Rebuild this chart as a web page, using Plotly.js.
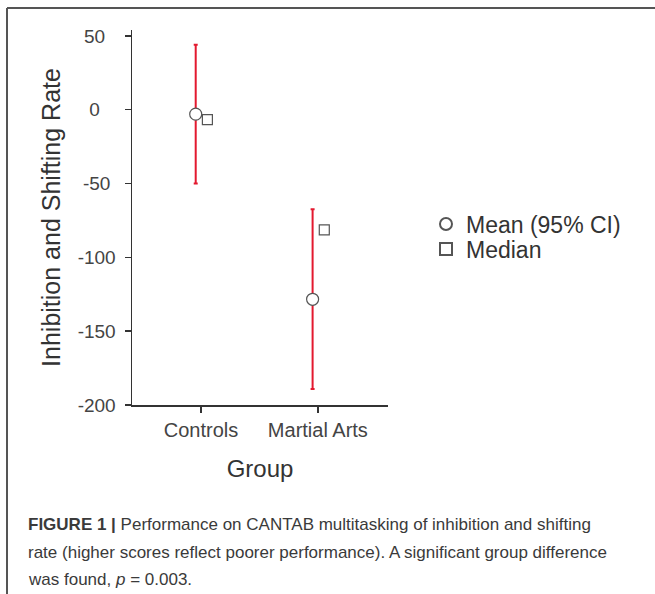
<!DOCTYPE html>
<html>
<head>
<meta charset="utf-8">
<script src="https://cdn.plot.ly/plotly-3.0.1.min.js"></script>
<style>html,body{margin:0;padding:0;background:#fff;}#chart{width:655px;height:594px;}</style>
</head>
<body>
<div id="chart"></div>
<script>
// ---- data ----
const groups = ["Controls", "Martial Arts"];
const meanValues = [-3, -128.4];
const ciUpper = [44, -67.4];
const ciLower = [-50, -189.2];
const medianValues = [-6.7, -81.4];
const yTickVals = [50, 0, -50, -100, -150, -200];
const yTickLabels = ["50", "0", "-50", "-100", "-150", "-200"];
const captionLines = [
  "<b>FIGURE 1 |</b> Performance on CANTAB multitasking of inhibition and shifting",
  "rate (higher scores reflect poorer performance). A significant group difference",
  "was found, <i>p</i> = 0.003."
];

// ---- geometry (pixels) ----
const W = 655, H = 594;
const L = 132, R = 388, T = 30, B = 405;
const px = x => (x - L) / (R - L);
const py = y => (B - y) / (B - T);

const idx = groups.map((g, i) => i + 1);
const meanOffset = -0.045, medianOffset = 0.055;

const font = "Liberation Sans, Arial, sans-serif";
const dark = "#333";

// centre-align y tick labels (reference has centred labels) by trailing padding
const longest = Math.max(...yTickLabels.map(s => s.length));
const padLabel = s => {
  const widthUnits = [...s].reduce((a, c) => a + (c === "-" ? 0.6 : 1), 0);
  const maxUnits = 3.6;
  const n = Math.round((maxUnits - widthUnits) / 2 * 2);
  return s + "\u00a0".repeat(Math.max(0, n));
};
const yTickText = yTickLabels.map(padLabel);

const traces = [
  {
    type: "scatter", mode: "markers", name: "Mean (95% CI)", legend: "legend",
    x: idx.map(v => v + meanOffset), y: meanValues,
    marker: {symbol: "circle", size: 12, color: "#fff", line: {color: "#555", width: 1.2}},
    error_y: {
      type: "data", symmetric: false,
      array: ciUpper.map((u, i) => u - meanValues[i]),
      arrayminus: meanValues.map((m, i) => m - ciLower[i]),
      color: "#e3192f", thickness: 2, width: 2
    }
  },
  {
    type: "scatter", mode: "markers", name: "Median", legend: "legend2",
    x: idx.map(v => v + medianOffset), y: medianValues,
    marker: {symbol: "square", size: 10, color: "#fff", line: {color: "#555", width: 1.2}}
  }
];

const annotations = captionLines.map((t, i) => ({
  text: t, xref: "paper", yref: "paper",
  x: px(26), y: py([524, 552, 579][i]), xanchor: "left", yanchor: "middle",
  showarrow: false, align: "left",
  font: {family: font, size: 17, color: "#3a3a3a"}
}));

const legendBase = {
  xanchor: "left", yanchor: "middle",
  font: {family: font, size: 23, color: dark},
  itemsizing: "constant", bgcolor: "rgba(0,0,0,0)"
};

const layout = {
  width: W, height: H,
  margin: {l: L, r: W - R, t: T, b: H - B, pad: 0},
  paper_bgcolor: "#fff", plot_bgcolor: "#fff",
  showlegend: true,
  legend: Object.assign({x: px(426), y: py(224)}, legendBase),
  legend2: Object.assign({x: px(426), y: py(249)}, legendBase),
  xaxis: {
    range: [0.41, 2.6], tickvals: idx, ticktext: groups,
    showline: true, linecolor: dark, linewidth: 1.5,
    ticks: "outside", ticklen: 6, tickwidth: 1.5, tickcolor: dark,
    showgrid: false, zeroline: false,
    tickfont: {family: font, size: 20, color: "#444"},
    title: {text: "Group", font: {family: font, size: 24, color: dark}, standoff: 20}
  },
  yaxis: {
    range: [-200, 54], tickvals: yTickVals, ticktext: yTickText,
    showline: true, linecolor: dark, linewidth: 1.5,
    ticks: "outside", ticklen: 6, tickwidth: 1.5, tickcolor: dark,
    ticklabelstandoff: 5,
    showgrid: false, zeroline: false,
    tickfont: {family: font, size: 19, color: "#444"},
    title: {text: "Inhibition and Shifting Rate", font: {family: font, size: 25, color: dark}, standoff: 10}
  },
  shapes: [
    {type: "line", xref: "paper", yref: "paper", x0: px(7), x1: px(W), y0: py(8), y1: py(8), line: {color: "#555", width: 2}},
    {type: "line", xref: "paper", yref: "paper", x0: px(7), x1: px(7), y0: py(8), y1: py(H), line: {color: "#555", width: 2}}
  ],
  annotations: annotations
};

Plotly.newPlot("chart", traces, layout, {displayModeBar: false, staticPlot: true});
</script>
</body>
</html>
